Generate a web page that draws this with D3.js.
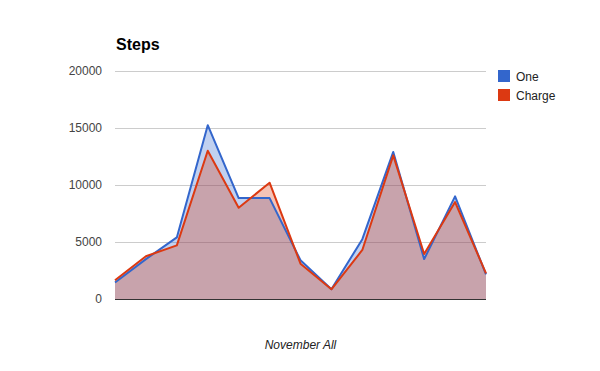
<!DOCTYPE html>
<html>
<head>
<meta charset="utf-8">
<script src="https://cdn.jsdelivr.net/npm/d3@7"></script>
<style>
  body { margin: 0; background: #fff; }
  text { font-family: Arial, "Liberation Sans", sans-serif; }
</style>
</head>
<body>
<div id="chart"></div>
<script>
// data
var seriesNames = ['One', 'Charge'];
var seriesColors = ['#3366cc', '#dc3912'];
var oneValues = [1450, 3500, 5400, 15250, 8850, 8850, 3400, 850, 5250, 12900, 3500, 9000, 2150];
var chargeValues = [1650, 3750, 4700, 13000, 8000, 10200, 3100, 850, 4300, 12600, 3950, 8500, 2250];
var yTicks = [0, 5000, 10000, 15000, 20000];

var width = 600, height = 371;
var margin = {top: 71, right: 114, bottom: 72, left: 115};

var svg = d3.select('#chart').append('svg')
    .attr('width', width)
    .attr('height', height);

var x = d3.scaleLinear()
    .domain([0, oneValues.length - 1])
    .range([margin.left, width - margin.right]);

var y = d3.scaleLinear()
    .domain([0, 20000])
    .range([height - margin.bottom, margin.top]);

//gridlines
svg.append('g').selectAll('line')
    .data(yTicks.filter(function(d){ return d > 0; }))
    .enter().append('line')
    .attr('x1', margin.left)
    .attr('x2', width - margin.right)
    .attr('y1', function(d){ return Math.round(y(d)) + 0.5; })
    .attr('y2', function(d){ return Math.round(y(d)) + 0.5; })
    .attr('stroke', '#cccccc')
    .attr('stroke-width', 1);

//tick labels
svg.append('g').selectAll('text')
    .data(yTicks)
    .enter().append('text')
    .text(function(d){ return d; })
    .attr('x', margin.left - 13)
    .attr('y', function(d){ return y(d) + 4; })
    .attr('text-anchor', 'end')
    .style('font-size', '12px')
    .attr('fill', '#444444');

var area = d3.area()
    .x(function(d, i){ return x(i); })
    .y0(y(0))
    .y1(function(d){ return y(d); });

var line = d3.line()
    .x(function(d, i){ return x(i); })
    .y(function(d){ return y(d); });

var allSeries = [oneValues, chargeValues];

//areas
allSeries.forEach(function(s, k){
    svg.append('path')
        .attr('d', area(s))
        .attr('fill', seriesColors[k])
        .attr('fill-opacity', 0.3);
});

//lines
allSeries.forEach(function(s, k){
    svg.append('path')
        .attr('d', line(s))
        .attr('fill', 'none')
        .attr('stroke', seriesColors[k])
        .attr('stroke-width', 2)
        .attr('stroke-linejoin', 'round');
});

//baseline
svg.append('line')
    .attr('x1', margin.left)
    .attr('x2', width - margin.right)
    .attr('y1', Math.round(y(0)) + 0.5)
    .attr('y2', Math.round(y(0)) + 0.5)
    .attr('stroke', '#333333')
    .attr('stroke-width', 1);

//title
svg.append('text')
    .text('Steps')
    .attr('x', margin.left + 1)
    .attr('y', 50)
    .style('font-size', '16px')
    .style('font-weight', 'bold')
    .attr('fill', '#000000');

//axis title
svg.append('text')
    .text('November All')
    .attr('x', (margin.left + width - margin.right) / 2)
    .attr('y', 349)
    .attr('text-anchor', 'middle')
    .style('font-size', '12px')
    .style('font-style', 'italic')
    .attr('fill', '#222222');

//legend
var legend = svg.append('g').attr('transform', 'translate(498, 70)');
seriesNames.forEach(function(name, k){
    legend.append('rect')
        .attr('x', 0)
        .attr('y', k * 19)
        .attr('width', 12)
        .attr('height', 12)
        .attr('fill', seriesColors[k]);
    legend.append('text')
        .text(name)
        .attr('x', 18)
        .attr('y', k * 19 + 10.5)
        .style('font-size', '12px')
        .attr('fill', '#222222');
});
</script>
</body>
</html>
